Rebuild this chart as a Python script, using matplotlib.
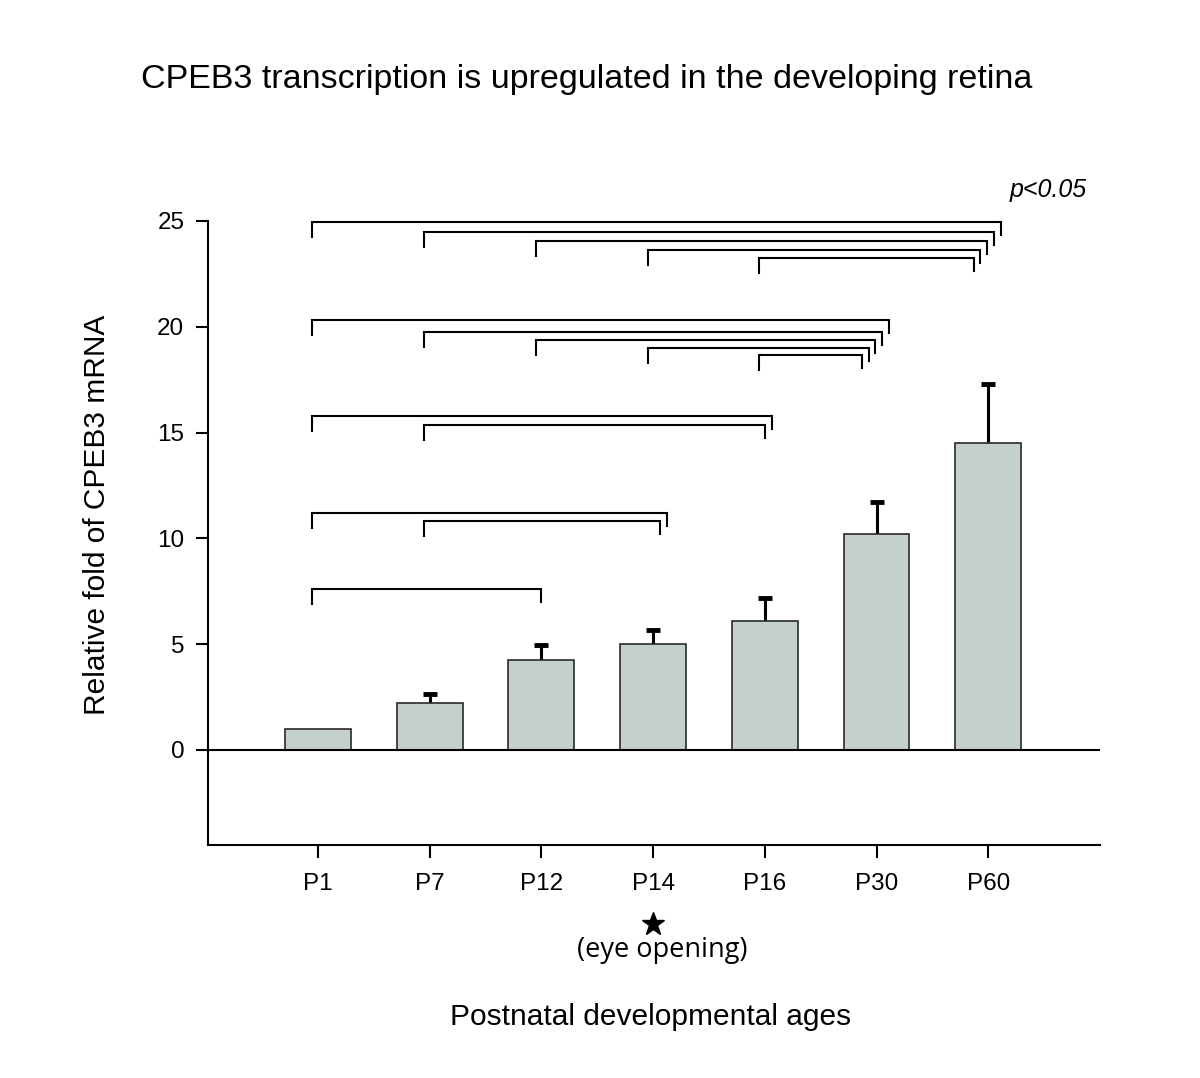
import numpy as np
import matplotlib
matplotlib.use('Agg')
import matplotlib.pyplot as plt
import matplotlib.transforms as mtransforms

plt.rcParams['font.family'] = ['Liberation Sans', 'DejaVu Sans']

# data
ages = ['P1', 'P7', 'P12', 'P14', 'P16', 'P30', 'P60']
fold = [1.0, 2.22, 4.25, 5.0, 6.1, 10.2, 14.5]
err = [0.0, 0.43, 0.71, 0.67, 1.08, 1.52, 2.8]

# significant comparisons (from, to) and bracket levels
pairs_p60 = [('P1', 'P60'), ('P7', 'P60'), ('P12', 'P60'), ('P14', 'P60'), ('P16', 'P60')]
levels_p60 = [24.95, 24.48, 24.05, 23.63, 23.25]
pairs_p30 = [('P1', 'P30'), ('P7', 'P30'), ('P12', 'P30'), ('P14', 'P30'), ('P16', 'P30')]
levels_p30 = [20.32, 19.75, 19.38, 19.0, 18.67]
pairs_p16 = [('P1', 'P16'), ('P7', 'P16')]
levels_p16 = [15.78, 15.36]
pairs_p14 = [('P1', 'P14'), ('P7', 'P14')]
levels_p14 = [11.2, 10.82]
pairs_p12 = [('P1', 'P12')]
levels_p12 = [7.6]

fig = plt.figure(figsize=(12, 10.78), dpi=100)
ax = fig.add_axes([0.1733, 0.2161, 0.7433, 0.5789])

x = np.arange(len(ages))
fold = np.array(fold)
err = np.array(err)
ax.bar(x, fold, width=0.59, color='#c5cfcd', edgecolor='#2a2a2a', linewidth=1.2, zorder=2)
# upper-only error bars with a heavy flat cap
has_err = err > 0
ax.vlines(x[has_err], fold[has_err], fold[has_err] + err[has_err], color='black', lw=2.2, zorder=1)
ax.plot(x[has_err], fold[has_err] + err[has_err], ls='none', marker='_', color='black',
        markersize=10, markeredgewidth=3.5, zorder=1)

ax.axhline(0, color='black', lw=1.5, zorder=3)
ax.set_xlim(-0.985, 7.0)
ax.set_ylim(-4.5, 25)
ax.set_xticks(x)
ax.set_xticklabels(ages, fontsize=17.5)
ax.set_yticks([0, 5, 10, 15, 20, 25])
ax.set_yticklabels(['0', '5', '10', '15', '20', '25'], fontsize=17.5)
ax.tick_params(axis='both', direction='out', length=9, width=1.5, pad=8)
ax.tick_params(axis='x', pad=11)
for s in ['top', 'right']:
    ax.spines[s].set_visible(False)
for s in ['left', 'bottom']:
    ax.spines[s].set_linewidth(1.5)


def brackets(pairs, levels, right_shift):
    for k, ((a, b), y) in enumerate(zip(pairs, levels)):
        x0 = ages.index(a) - 0.05
        x1 = ages.index(b) + right_shift - 0.06 * k
        ax.plot([x0, x0, x1, x1], [y - 0.7, y, y, y - 0.6], color='black', lw=1.5,
                clip_on=False, solid_joinstyle='miter')


brackets(pairs_p60, levels_p60, 0.11)
brackets(pairs_p30, levels_p30, 0.11)
brackets(pairs_p16, levels_p16, 0.06)
brackets(pairs_p14, levels_p14, 0.12)
brackets(pairs_p12, levels_p12, 0.0)

ax.text(6.88, 26.47, 'p<0.05', ha='right', va='center', fontsize=18, style='italic')

trans = mtransforms.blended_transform_factory(ax.transData, ax.transAxes)
ax.plot([3], [-0.127], marker='*', color='black', markersize=17, transform=trans, clip_on=False)
ax.text(3.08, -0.168, '(eye opening)', transform=trans, ha='center', va='center',
        fontsize=19.5, family=['Open Sans', 'DejaVu Sans'])

ax.set_ylabel('Relative fold of CPEB3 mRNA', fontsize=21.5)
ax.yaxis.set_label_coords(-0.109, 0.529)
fig.text(0.542, 0.0566, 'Postnatal developmental ages', ha='center', va='center', fontsize=21.5)
fig.text(0.489, 0.9265, 'CPEB3 transcription is upregulated in the developing retina',
         ha='center', va='center', fontsize=24.5)

fig.savefig('out.png', dpi=100)
